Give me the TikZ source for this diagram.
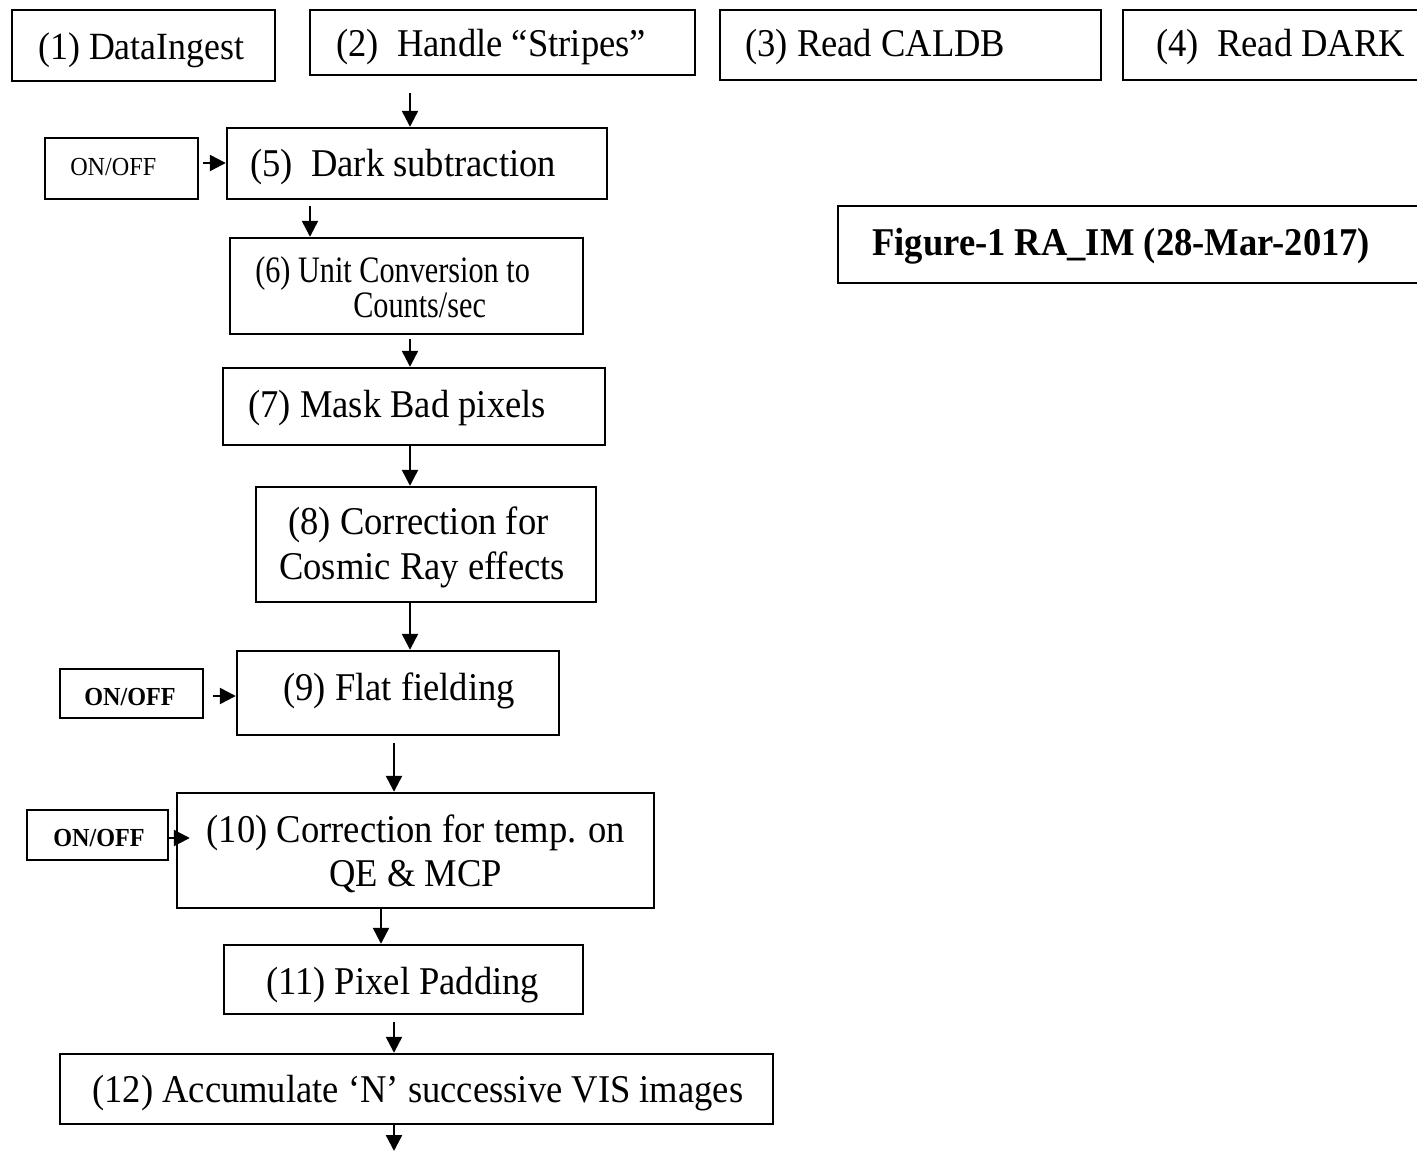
\documentclass[tikz,border=0pt]{standalone}
\usepackage{fontspec}
\setmainfont{Liberation Serif}[FakeStretch=0.93]
\newfontfamily\narrowserif{Liberation Serif}[FakeStretch=0.81]
\usetikzlibrary{arrows.meta,fit}
\begin{document}
\begin{tikzpicture}[x=0.75pt,y=-0.75pt,
  box/.style={draw, line width=1.8pt, inner sep=0pt, rectangle},
  lbl/.style={anchor=base west, inner sep=0pt, font=\fontsize{29.5pt}{35pt}\selectfont},
  lblc/.style={lbl, anchor=base},
  small/.style={anchor=base west, inner sep=0pt, font=\fontsize{19.5pt}{23pt}\selectfont},
  smallb/.style={small, font=\fontsize{19.5pt}{23pt}\selectfont\bfseries},
  arr/.style={-{Triangle[length=12pt,width=12pt]}, line width=1.8pt}]
\useasboundingbox (0,0) rectangle (1417,1151);

% --- top row of input steps
\node[box, fit={(12,10) (275,81)}] (b1) {};
\node[lbl, font=\fontsize{28.9pt}{34pt}\selectfont] (t1) at (38,60) {(1) DataIngest};
\node[box, fit={(310,10) (695,75)}] (b2) {};
\node[lbl] (t2) at (336,57) {(2)~ Handle “Stripes”};
\node[box, fit={(720,10) (1101,80)}] (b3) {};
\node[lbl] (t3) at (745,57) {(3) Read CALDB};
\node[box, fit={(1123,10) (1440,80)}] (b4) {};
\node[lbl] (t4) at (1156,57) {(4)~ Read DARK};

% --- title box
\node[box, fit={(838,206) (1440,283)}] (fig) {};
\node[lbl, font=\fontsize{29.5pt}{35pt}\selectfont\bfseries] (tfig) at (872,256) {Figure-1 RA\_IM (28-Mar-2017)};

% --- processing chain
\node[box, fit={(227,128) (607,199)}] (b5) {};
\node[lbl] (t5) at (250,176.5) {(5)~ Dark subtraction};
\node[box, fit={(45,138) (198,199)}] (o5) {};
\node[small] (u5) at (70,176) {ON/OFF};

\node[box, fit={(230,238) (583,334)}] (b6) {};
\node[lbl, font=\fontsize{28pt}{33pt}\narrowserif] (t6a) at (255,283) {(6) Unit Conversion to};
\node[lbl, font=\fontsize{28pt}{33pt}\narrowserif] (t6b) at (353,318) {Counts/sec};

\node[box, fit={(223,368) (605,445)}] (b7) {};
\node[lbl] (t7) at (248,418) {(7) Mask Bad pixels};

\node[box, fit={(256,487) (596,602)}] (b8) {};
\node[lblc] (t8a) at (418.5,535) {(8) Correction for};
\node[lblc] (t8b) at (422,579) {Cosmic Ray effects};

\node[box, fit={(237,651) (559,735)}] (b9) {};
\node[lbl] (t9) at (283,700) {(9) Flat fielding};
\node[box, fit={(60,669) (203,718)}] (o9) {};
\node[smallb] (u9) at (84,705) {ON/OFF};

\node[box, fit={(177,793) (654,908)}] (b10) {};
\node[lblc] (t10a) at (416,842) {(10) Correction for temp. on};
\node[lblc] (t10b) at (415.5,886) {QE \& MCP};
\node[box, fit={(27,810) (168,860)}] (o10) {};
\node[smallb] (u10) at (53,846) {ON/OFF};

\node[box, fit={(224,945) (583,1014)}] (b11) {};
\node[lbl] (t11) at (266,994) {(11) Pixel Padding};

\node[box, fit={(60,1054) (773,1124)}] (b12) {};
\node[lbl] (t12) at (92,1102) {(12) Accumulate ‘N’ successive VIS images};

% --- x positions of the vertical connectors
\coordinate (c2) at (410,93);
\coordinate (c5) at (310,0);
\coordinate (c6) at (410,0);
\coordinate (c9) at (394,0);
\coordinate (c10) at (381,0);
\coordinate (c12) at (394,1151);

% --- connectors
\draw[arr] (c2) -- (c2 |- b5.north);
\draw[arr, shorten <=6*0.75pt] (b5.south -| c5) -- (b6.north -| c5);
\draw[arr, shorten <=4*0.75pt] (b6.south -| c6) -- (b7.north -| c6);
\draw[arr] (b7.south -| c6) -- (b8.north -| c6);
\draw[arr] (b8.south -| c6) -- (b9.north -| c6);
\draw[arr, shorten <=7*0.75pt] (b9.south -| c9) -- (b10.north -| c9);
\draw[arr] (b10.south -| c10) -- (b11.north -| c10);
\draw[arr, shorten <=7*0.75pt] (b11.south -| c9) -- (b12.north -| c9);
\draw[arr] (b12.south -| c12) -- (c12);

\draw[arr, shorten <=4*0.75pt] (o5.east |- 0,163) -- (b5.west |- 0,163);
\draw[arr, shorten <=9*0.75pt] (o9.east |- 0,696) -- (b9.west |- 0,696);
\draw[arr, shorten >=-14*0.75pt] (o10.east |- 0,838) -- (b10.west |- 0,838);
\end{tikzpicture}
\end{document}
